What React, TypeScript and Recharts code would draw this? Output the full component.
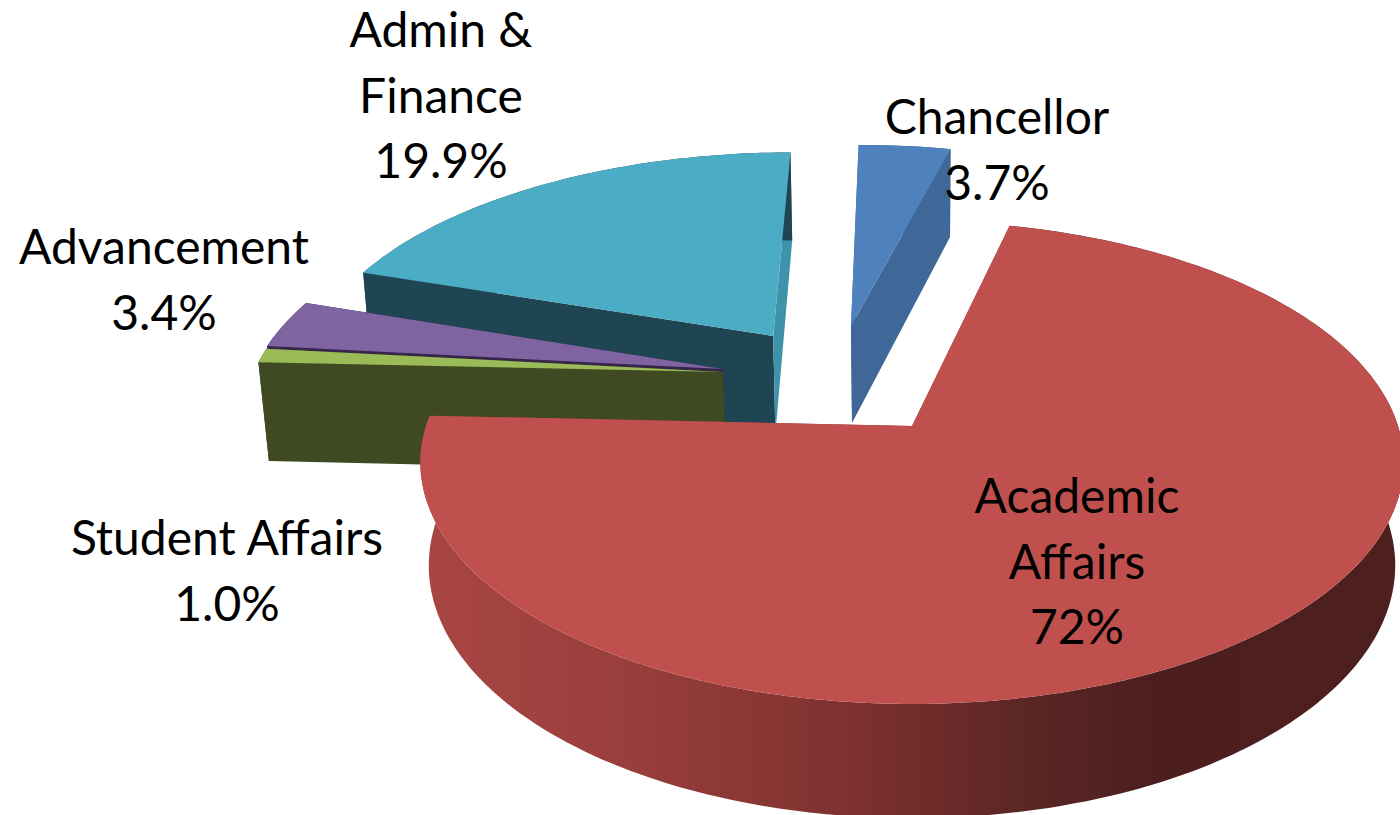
import { PieChart, Pie } from 'recharts'

// order is back to front, the pie draws its sectors in this order
const categories = ['Chancellor', 'Admin & Finance', 'Advancement', 'Student Affairs', 'Academic Affairs']
const shares = [3.7, 19.9, 3.4, 1.0, 72]
const shareLabels = ['3.7%', '19.9%', '3.4%', '1.0%', '72%']

const nameLines = [['Chancellor'], ['Admin &', 'Finance'], ['Advancement'], ['Student Affairs'], ['Academic', 'Affairs']]
const labelAnchors = [
  { x: 997, y: 134 },
  { x: 441, y: 47 },
  { x: 164, y: 264 },
  { x: 227, y: 555 },
  { x: 1077, y: 513 },
]

const topColors = ['#4f81bd', '#4bacc6', '#8064a2', '#9bbb59', '#c0504d']
const wallColors = ['#3f6797', '#1f4553', '#35264a', '#3f4a22', 'url(#academicWall)']
const faceColors = [
  { start: '#3f6797', end: '#3f6797' },
  { start: '#3e93aa', end: '#1f4553' },
  { start: '#35264a', end: '#35264a' },
  { start: '#3f4a22', end: '#3f4a22' },
  { start: '#8f3a38', end: '#8f3a38' },
]

// how far each slice is pulled out, in plan coordinates (1 = radius)
const explode = [
  { u: -0.134, v: 0.4525 },
  { u: -0.303, v: 0.405 },
  { u: -0.404, v: 0.2507 },
  { u: -0.403, v: 0.2375 },
  { u: 0, v: 0 },
]

const pieData = categories.map((name, i) => ({ name, value: shares[i] }))

// perspective of the tilted disc
const TILT = 0.4856
const DEPTH = 0.2132
const FAR = 0.151
const DROP = 0.017

const LINE_HEIGHT = 65.5
const FONT = 'Lato, sans-serif'
const FONT_SIZE = 48

function Slice3D(props: any) {
  const { cx, cy, outerRadius, startAngle, endAngle, name } = props
  const i = categories.indexOf(name)
  const off = explode[i]

  const project = (u: number, v: number, z: number) => {
    const w = 1 + FAR * v + DROP * z
    return [cx + (outerRadius * u) / w, cy + (outerRadius * (-TILT * v + DEPTH * z)) / w]
  }
  const rim = (deg: number, z: number) => {
    const a = (deg * Math.PI) / 180
    return project(off.u + Math.cos(a), off.v + Math.sin(a), z)
  }
  const from = Math.min(startAngle, endAngle)
  const to = Math.max(startAngle, endAngle)
  const steps = Math.max(2, Math.ceil(to - from))
  const angles: number[] = []
  for (let s = 0; s <= steps; s++) angles.push(from + ((to - from) * s) / steps)

  const pts = (list: number[][]) => list.map(p => p[0].toFixed(1) + ',' + p[1].toFixed(1)).join(' ')
  const hubTop = project(off.u, off.v, 0)
  const hubBottom = project(off.u, off.v, 1)

  return (
    <g>
      {i === 4 && (
        <defs>
          <linearGradient id="academicWall" gradientUnits="userSpaceOnUse" x1="420" y1="0" x2="1400" y2="0">
            <stop offset="0" stopColor="#a94644" />
            <stop offset="0.2" stopColor="#9a3f3c" />
            <stop offset="0.45" stopColor="#7c302e" />
            <stop offset="0.62" stopColor="#5a2624" />
            <stop offset="0.75" stopColor="#4c1e1e" />
            <stop offset="1" stopColor="#4e1f1f" />
          </linearGradient>
        </defs>
      )}
      <polygon points={pts([hubTop, rim(to, 0), rim(to, 1), hubBottom])} fill={faceColors[i].end} />
      <polygon points={pts([hubTop, rim(from, 0), rim(from, 1), hubBottom])} fill={faceColors[i].start} />
      <polygon
        points={pts([...angles.map(a => rim(a, 0)), ...angles.slice().reverse().map(a => rim(a, 1))])}
        fill={wallColors[i]}
      />
      <polygon points={pts([hubTop, ...angles.map(a => rim(a, 0))])} fill={topColors[i]} />
    </g>
  )
}

function SliceLabel(props: any) {
  const i = categories.indexOf(props.name)
  const { x, y } = labelAnchors[i]
  const lines = [...nameLines[i], shareLabels[i]]
  return (
    <text x={x} y={y} textAnchor="middle" fontFamily={FONT} fontSize={FONT_SIZE} fill="#000">
      {lines.map((line, n) => (
        <tspan key={n} x={x} y={y + n * LINE_HEIGHT}>
          {line}
        </tspan>
      ))}
    </text>
  )
}

export default function App() {
  return (
    <div style={{ position: 'absolute', left: 0, top: 0, width: 1400, height: 815, overflow: 'hidden' }}>
      <PieChart width={1400} height={815} margin={{ top: 0, right: 0, bottom: 0, left: 0 }}>
        <Pie
          data={pieData}
          dataKey="value"
          nameKey="name"
          cx={912}
          cy={426}
          innerRadius={0}
          outerRadius={486}
          startAngle={90 - (shares[0] / 100) * 360}
          endAngle={450 - (shares[0] / 100) * 360}
          stroke="none"
          shape={Slice3D}
          label={SliceLabel}
          labelLine={false}
          isAnimationActive={false}
        />
      </PieChart>
    </div>
  )
}
